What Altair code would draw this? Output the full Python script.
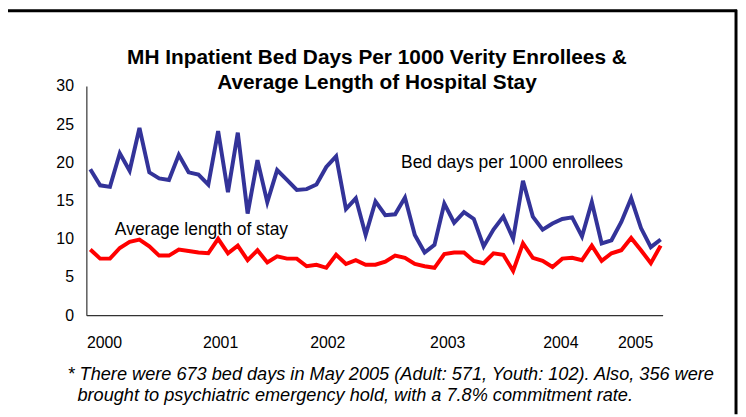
import altair as alt
import pandas as pd

# Monthly series (59 points)
bed_days = [19.1, 17.0, 16.8, 21.2, 18.9, 24.5, 18.7, 17.9, 17.7, 21.0,
            18.7, 18.4, 17.1, 24.1, 16.1, 23.9, 13.3, 20.3, 14.8, 19.0,
            17.7, 16.4, 16.5, 17.1, 19.4, 20.8, 13.9, 15.3, 10.5, 14.9,
            13.1, 13.2, 15.4, 10.5, 8.2, 9.2, 14.6, 12.1, 13.5, 12.6,
            9.0, 11.2, 12.9, 10.0, 17.6, 12.9, 11.2, 12.0, 12.6, 12.8,
            10.3, 14.8, 9.4, 9.8, 12.2, 15.3, 11.4, 8.9, 9.9]
avg_stay = [8.6, 7.4, 7.4, 8.8, 9.6, 9.9, 9.0, 7.8, 7.8, 8.6,
            8.4, 8.2, 8.1, 10.0, 8.1, 9.1, 7.2, 8.5, 6.9, 7.7,
            7.4, 7.4, 6.4, 6.6, 6.2, 7.9, 6.7, 7.2, 6.6, 6.6,
            7.0, 7.8, 7.5, 6.7, 6.4, 6.2, 8.0, 8.2, 8.2, 7.1,
            6.8, 8.1, 7.9, 5.8, 9.4, 7.5, 7.1, 6.3, 7.4, 7.5,
            7.2, 9.1, 7.1, 8.1, 8.5, 10.1, 8.5, 6.8, 9.1]
series_names = ["Bed days per 1000 enrollees", "Average length of stay"]
series_colors = ["#333399", "#FF0000"]

year_labels = ["2000", "2001", "2002", "2003", "2004", "2005"]
year_pos = [1.4, 13.2, 24.1, 36.3, 47.8, 55.4]
y_ticks = [0, 5, 10, 15, 20, 25, 30]

annot_text = ["Bed days per 1000 enrollees", "Average length of stay"]
annot_x = [31.6, 2.5]
annot_y = [19.9, 11.2]

title_lines = ["MH Inpatient Bed Days Per 1000 Verity Enrollees &",
               "Average Length of Hospital Stay"]
footnote_lines = ["* There were 673 bed days in May 2005 (Adult: 571, Youth: 102). Also, 356 were",
                  "brought to psychiatric emergency hold, with a 7.8% commitment rate."]

n = len(bed_days)
df = pd.DataFrame({
    "i": list(range(n)) * 2,
    "value": bed_days + avg_stay,
    "series": [series_names[0]] * n + [series_names[1]] * n,
})
ann = pd.DataFrame({"text": annot_text, "ax": annot_x, "ay": annot_y})

label_expr = "''"
for p, l in reversed(list(zip(year_pos, year_labels))):
    label_expr = f"abs(datum.value - {p}) < 0.01 ? '{l}' : ({label_expr})"

FONT = "Liberation Sans"
xscale = alt.Scale(domain=[-0.4, 58.2], nice=False, zero=False)
yscale = alt.Scale(domain=[0, 30], nice=False, zero=True)
xaxis = alt.Axis(values=year_pos, labelExpr=label_expr, ticks=False, grid=False,
                 title=None, labelFontSize=16, labelPadding=20, labelFont=FONT,
                 labelColor="black", domainColor="#333333", domainWidth=1.2,
                 labelFlush=False, labelOverlap=False)
yaxis = alt.Axis(values=y_ticks, ticks=False, grid=False, title=None,
                 labelFontSize=16, labelPadding=13, labelFont=FONT,
                 labelColor="black", domainColor="#333333", domainWidth=1.2,
                 labelOverlap=False, labelFlush=False)

lines = alt.Chart(df).mark_line(strokeWidth=4).encode(
    x=alt.X("i:Q", scale=xscale, axis=xaxis),
    y=alt.Y("value:Q", scale=yscale, axis=yaxis),
    color=alt.Color("series:N", scale=alt.Scale(domain=series_names, range=series_colors),
                    legend=None),
)

labels = alt.Chart(ann).mark_text(align="left", baseline="middle", fontSize=17.6,
                                  font=FONT, color="black").encode(
    x=alt.X("ax:Q", scale=xscale, axis=xaxis),
    y=alt.Y("ay:Q", scale=yscale, axis=yaxis),
    text="text:N",
)

ttl = pd.DataFrame({"t": title_lines, "tx": [293, 293], "ty": [-22.3, 3.3]})
title = alt.Chart(ttl).mark_text(align="center", baseline="alphabetic", fontSize=21,
                                 font=FONT, fontWeight="bold", color="black").encode(
    x=alt.X("tx:Q", scale=None),
    y=alt.Y("ty:Q", scale=None),
    text="t:N",
)

foot = pd.DataFrame({"t": footnote_lines, "fx": [-19, -9], "fy": [291, 313]})
footnote = alt.Chart(foot).mark_text(align="left", baseline="middle", fontSize=18.3,
                                     font=FONT, fontStyle="italic", color="black").encode(
    x=alt.X("fx:Q", scale=None),
    y=alt.Y("fy:Q", scale=None),
    text="t:N",
)

one = pd.DataFrame({"a": [0]})
border_top = alt.Chart(one).mark_rule(color="black", strokeWidth=3).encode(
    x=alt.value(-79), x2=alt.value(656), y=alt.value(-76))
border_right = alt.Chart(one).mark_rule(color="black", strokeWidth=3).encode(
    x=alt.value(655), y=alt.value(-77), y2=alt.value(331))

chart = alt.layer(lines, labels, title, footnote, border_top, border_right).properties(
    width=581, height=231,
    padding={"left": 79, "top": 77, "right": 76, "bottom": 100},
    autosize=alt.AutoSizeParams(type="none"),
).configure_view(stroke=None)

chart.save("out.html", embed_options={"renderer": "svg", "actions": False})
